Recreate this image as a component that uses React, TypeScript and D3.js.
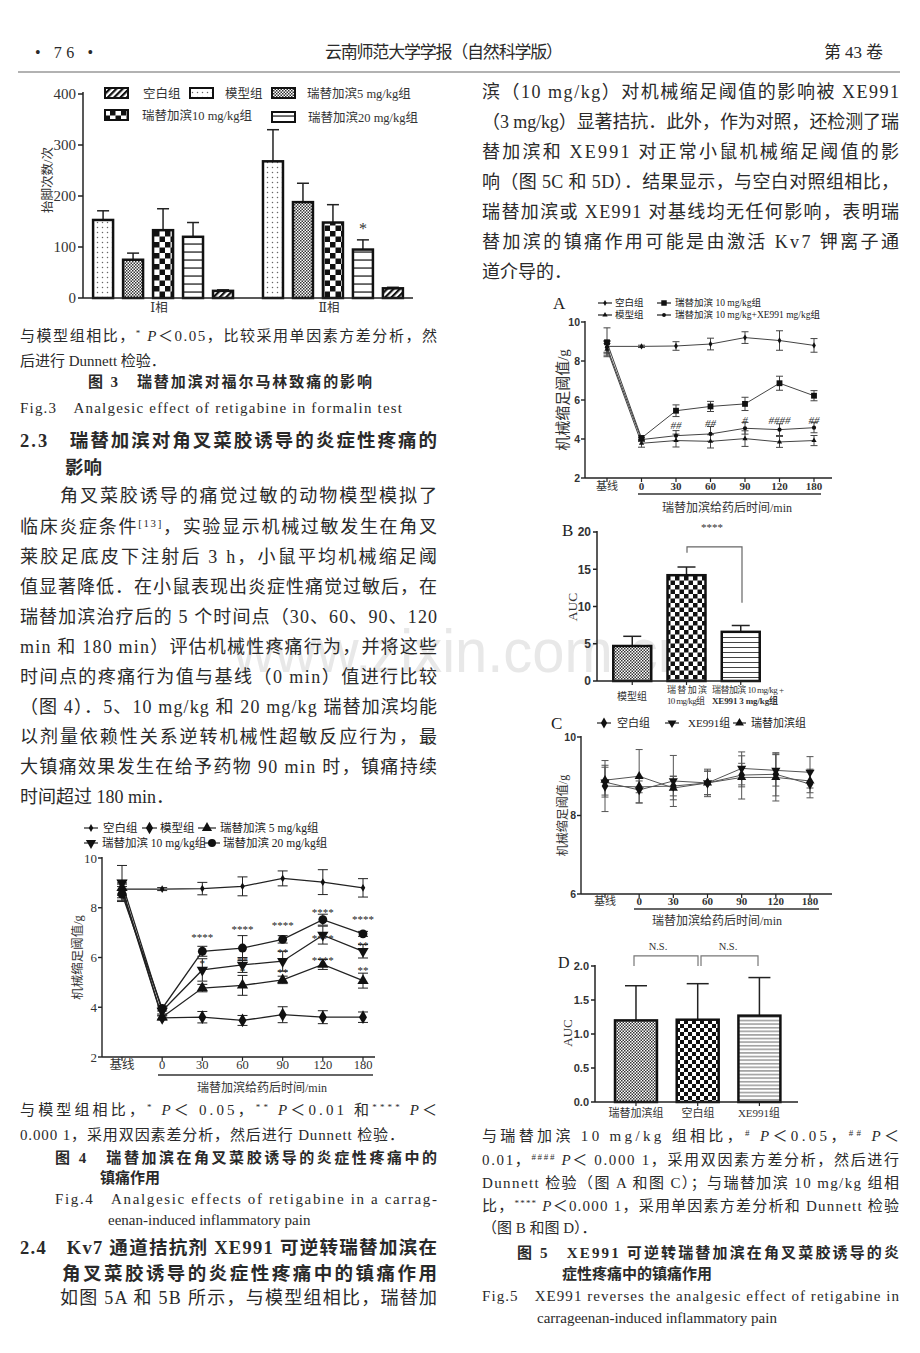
import React from 'react'
import * as d3 from 'd3'

const SERIF = "'Liberation Serif', 'DejaVu Serif', 'Noto Sans CJK SC', serif"
const SANS = "'Liberation Sans', 'DejaVu Sans', 'Noto Sans CJK SC', sans-serif"
const INK = '#2a2a2a'

// ---------- Fig.3 formalin test ----------
const fig3Phases = ['Ⅰ相', 'Ⅱ相']
const fig3Bars = ['模型组', '瑞替加滨5 mg/kg组', '瑞替加滨10 mg/kg组', '瑞替加滨20 mg/kg组', '空白组']
const fig3Legend = ['空白组', '模型组', '瑞替加滨5 mg/kg组', '瑞替加滨10 mg/kg组', '瑞替加滨20 mg/kg组']
const fig3PhaseI = [153, 75, 133, 120, 14]
const fig3PhaseIErr = [18, 13, 42, 28, 2]
const fig3PhaseII = [268, 188, 148, 95, 19]
const fig3PhaseIIErr = [62, 37, 35, 19, 2]
const fig3StarsII = ['', '', '', '*', '']
const fig3Ticks = [0, 100, 200, 300, 400]

// ---------- time axis shared by Fig.4 / 5A / 5C ----------
const timePoints = ['基线', '0', '30', '60', '90', '120', '180']

// ---------- Fig.4 ----------
const fig4Names = ['空白组', '模型组', '瑞替加滨  5 mg/kg组', '瑞替加滨  10 mg/kg组', '瑞替加滨  20 mg/kg组']
const fig4Blank = [8.75, 8.75, 8.77, 8.86, 9.18, 9.03, 8.8]
const fig4BlankErr = [0.2, 0.06, 0.25, 0.38, 0.3, 0.5, 0.37]
const fig4Model = [8.7, 3.57, 3.6, 3.47, 3.7, 3.6, 3.6]
const fig4ModelErr = [0.3, 0.08, 0.23, 0.2, 0.32, 0.26, 0.21]
const fig4Dose5 = [8.8, 3.6, 4.77, 4.88, 5.1, 5.72, 5.07]
const fig4Dose5Err = [0.3, 0.08, 0.15, 0.4, 0.15, 0.2, 0.3]
const fig4Dose10 = [9.0, 3.85, 5.5, 5.7, 5.85, 6.9, 6.25]
const fig4Dose10Err = [0.7, 0.12, 0.45, 0.3, 0.4, 0.36, 0.27]
const fig4Dose20 = [8.55, 3.95, 6.25, 6.38, 6.73, 7.52, 6.95]
const fig4Dose20Err = [0.3, 0.1, 0.2, 0.5, 0.15, 0.22, 0.1]
const fig4MarkTimes = ['30', '30', '60', '60', '60', '90', '90', '90', '120', '120', '120', '180', '180', '180']
const fig4MarkValues = [6.9, 5.85, 7.24, 5.98, 5.54, 7.38, 6.3, 5.5, 7.9, 6.88, 5.98, 7.64, 6.58, 5.58]
const fig4MarkTexts = ['****', '*', '****', '**', '*', '****', '**', '**', '****', '****', '****', '****', '**', '**']

// ---------- Fig.5A ----------
const fig5aNames = ['空白组', '瑞替加滨 10 mg/kg组', '模型组', '瑞替加滨 10 mg/kg+XE991 mg/kg组']
const fig5aBlank = [8.75, 8.75, 8.77, 8.87, 9.2, 9.05, 8.8]
const fig5aBlankErr = [0.3, 0.06, 0.22, 0.3, 0.3, 0.5, 0.35]
const fig5aDose10 = [8.96, 4.05, 5.45, 5.67, 5.8, 6.86, 6.22]
const fig5aDose10Err = [0.74, 0.12, 0.3, 0.26, 0.34, 0.36, 0.26]
const fig5aModel = [8.6, 3.78, 3.92, 3.88, 4.02, 3.85, 3.92]
const fig5aModelErr = [0.3, 0.2, 0.33, 0.34, 0.4, 0.28, 0.26]
const fig5aXE = [8.7, 3.97, 4.17, 4.26, 4.55, 4.48, 4.58]
const fig5aXEErr = [0.3, 0.1, 0.26, 0.38, 0.3, 0.3, 0.26]
const fig5aMarkTimes = ['30', '60', '90', '120', '180']
const fig5aMarkValues = [4.72, 4.82, 4.98, 4.98, 4.98]
const fig5aMarkTexts = ['##', '##', '#', '####', '##']

// ---------- Fig.5B ----------
const fig5bGroups = ['模型组', '瑞替加滨10', 'XE991']
const fig5bAuc = [4.7, 14.2, 6.6]
const fig5bErr = [1.3, 1.1, 0.85]
const fig5bTicks = [0, 5, 10, 15, 20]

// ---------- Fig.5C ----------
const fig5cNames = ['空白组', 'XE991组', '瑞替加滨组']
const fig5cBlank = [8.75, 8.73, 8.75, 8.83, 9.03, 9.05, 8.8]
const fig5cBlankErr = [0.65, 0.15, 0.25, 0.3, 0.3, 0.55, 0.35]
const fig5cXE = [8.85, 8.65, 8.88, 8.83, 9.2, 9.15, 9.1]
const fig5cXEErr = [0.38, 0.33, 0.65, 0.3, 0.42, 0.4, 0.4]
const fig5cRet = [8.9, 9.0, 8.7, 8.83, 8.97, 8.97, 8.88]
const fig5cRetErr = [0.38, 0.68, 0.3, 0.35, 0.55, 0.6, 0.3]

// ---------- Fig.5D ----------
const fig5dGroups = ['瑞替加滨组', '空白组', 'XE991组']
const fig5dAuc = [1.2, 1.21, 1.27]
const fig5dErr = [0.51, 0.53, 0.56]
const fig5dTicks = [0, 0.5, 1, 1.5, 2]

// ---------- page text ----------
type Ln = { x: number; y: number; s: string; size: number; w?: number; b?: boolean }
const pageLines: Ln[] = [
  { x: 35, y: 52, s: '•  76  •', size: 16, w: 58 },
  { x: 325, y: 52, s: '云南师范大学学报（自然科学版）', size: 17, w: 238 },
  { x: 824, y: 52, s: '第 43 卷', size: 17, w: 59 },

  { x: 482, y: 92, s: '滨（10 mg/kg）对机械缩足阈值的影响被 XE991', size: 18, w: 417 },
  { x: 482, y: 122, s: '（3 mg/kg）显著拮抗．此外，作为对照，还检测了瑞', size: 18, w: 417 },
  { x: 482, y: 152, s: '替加滨和 XE991 对正常小鼠机械缩足阈值的影', size: 18, w: 417 },
  { x: 482, y: 182, s: '响（图 5C 和 5D）．结果显示，与空白对照组相比，', size: 18, w: 417 },
  { x: 482, y: 212, s: '瑞替加滨或 XE991 对基线均无任何影响，表明瑞', size: 18, w: 417 },
  { x: 482, y: 242, s: '替加滨的镇痛作用可能是由激活 Kv7 钾离子通', size: 18, w: 417 },
  { x: 482, y: 272, s: '道介导的．', size: 18 },

  { x: 20, y: 336, s: '与模型组相比，{sup:*} {i:P}＜0.05，比较采用单因素方差分析，然', size: 15, w: 417 },
  { x: 20, y: 361, s: '后进行 Dunnett 检验．', size: 15 },
  { x: 88, y: 382, s: '图 3　瑞替加滨对福尔马林致痛的影响', size: 15, w: 284, b: true },
  { x: 20, y: 408, s: 'Fig.3　Analgesic effect of retigabine in formalin test', size: 15, w: 382 },
  { x: 20, y: 440, s: '2.3　瑞替加滨对角叉菜胶诱导的炎症性疼痛的', size: 18.5, w: 417, b: true },
  { x: 65, y: 467, s: '影响', size: 18.5, b: true },
  { x: 60, y: 496, s: '角叉菜胶诱导的痛觉过敏的动物模型模拟了', size: 18, w: 377 },
  { x: 20, y: 527, s: '临床炎症条件{sup:[13]}，实验显示机械过敏发生在角叉', size: 18, w: 417 },
  { x: 20, y: 557, s: '莱胶足底皮下注射后 3 h，小鼠平均机械缩足阈', size: 18, w: 417 },
  { x: 20, y: 587, s: '值显著降低．在小鼠表现出炎症性痛觉过敏后，在', size: 18, w: 417 },
  { x: 20, y: 617, s: '瑞替加滨治疗后的 5 个时间点（30、60、90、120', size: 18, w: 417 },
  { x: 20, y: 647, s: 'min 和 180 min）评估机械性疼痛行为，并将这些', size: 18, w: 417 },
  { x: 20, y: 677, s: '时间点的疼痛行为值与基线（0 min）值进行比较', size: 18, w: 417 },
  { x: 20, y: 707, s: '（图 4）．5、10 mg/kg 和 20 mg/kg 瑞替加滨均能', size: 18, w: 417 },
  { x: 20, y: 737, s: '以剂量依赖性关系逆转机械性超敏反应行为，最', size: 18, w: 417 },
  { x: 20, y: 767, s: '大镇痛效果发生在给予药物 90 min 时，镇痛持续', size: 18, w: 417 },
  { x: 20, y: 797, s: '时间超过 180 min．', size: 18 },

  { x: 20, y: 1110, s: '与模型组相比，{sup:*} {i:P}＜ 0.05，{sup:**} {i:P}＜0.01 和{sup:****} {i:P}＜', size: 15, w: 417 },
  { x: 20, y: 1135, s: '0.000 1，采用双因素差分析，然后进行 Dunnett 检验．', size: 15, w: 384 },
  { x: 55, y: 1158, s: '图 4　瑞替加滨在角叉菜胶诱导的炎症性疼痛中的', size: 15, w: 382, b: true },
  { x: 100, y: 1178, s: '镇痛作用', size: 15, b: true },
  { x: 55, y: 1199, s: 'Fig.4　Analgesic effects of retigabine in a carrag-', size: 15, w: 382 },
  { x: 108, y: 1220, s: 'eenan-induced inflammatory pain', size: 15 },
  { x: 20, y: 1247, s: '2.4　Kv7 通道拮抗剂 XE991 可逆转瑞替加滨在', size: 18.5, w: 417, b: true },
  { x: 62, y: 1273, s: '角叉菜胶诱导的炎症性疼痛中的镇痛作用', size: 18.5, w: 375, b: true },
  { x: 60, y: 1298, s: '如图 5A 和 5B 所示，与模型组相比，瑞替加', size: 18, w: 377 },

  { x: 482, y: 1136, s: '与瑞替加滨 10 mg/kg 组相比，{sup:#} {i:P}＜0.05，{sup:##} {i:P}＜', size: 15, w: 417 },
  { x: 482, y: 1160, s: '0.01，{sup:####} {i:P}＜ 0.000 1，采用双因素方差分析，然后进行', size: 15, w: 417 },
  { x: 482, y: 1183, s: 'Dunnett 检验（图 A 和图 C）；与瑞替加滨 10 mg/kg 组相', size: 15, w: 417 },
  { x: 482, y: 1206, s: '比，{sup:****} {i:P}＜0.000 1，采用单因素方差分析和 Dunnett 检验', size: 15, w: 417 },
  { x: 482, y: 1228, s: '（图 B 和图 D）．', size: 15 },
  { x: 517, y: 1253, s: '图 5　XE991 可逆转瑞替加滨在角叉菜胶诱导的炎', size: 15, w: 382, b: true },
  { x: 562, y: 1274, s: '症性疼痛中的镇痛作用', size: 15, b: true },
  { x: 482, y: 1296, s: 'Fig.5　XE991 reverses the analgesic effect of retigabine in', size: 15, w: 417 },
  { x: 537, y: 1318, s: 'carrageenan-induced inflammatory pain', size: 15 },
]

function rich(s: string, size: number) {
  const out: React.ReactNode[] = []
  const re = /\{(sup|i):([^}]*)\}/g
  const up = size * 0.38
  let last = 0
  let raised = false
  let k = 0
  let m: RegExpExecArray | null
  while ((m = re.exec(s))) {
    if (m.index > last) {
      out.push(<tspan key={k++} dy={raised ? up : 0}>{s.slice(last, m.index)}</tspan>)
      raised = false
    }
    if (m[1] === 'sup') {
      out.push(<tspan key={k++} dy={raised ? 0 : -up} fontSize={size * 0.6}>{m[2]}</tspan>)
      raised = true
    } else {
      out.push(<tspan key={k++} dy={raised ? up : 0} fontStyle="italic">{m[2]}</tspan>)
      raised = false
    }
    last = re.lastIndex
  }
  if (last < s.length) out.push(<tspan key={k++} dy={raised ? up : 0}>{s.slice(last)}</tspan>)
  return out
}

function PageText() {
  return (
    <g fill={INK}>
      {pageLines.map((l, i) => (
        <text key={i} x={l.x} y={l.y + l.size * 0.36} fontSize={l.size} fontWeight={l.b ? 700 : 400}
          textLength={l.w} lengthAdjust={l.w ? 'spacing' : undefined}>
          {rich(l.s, l.size)}
        </text>
      ))}
    </g>
  )
}

function Defs() {
  return (
    <defs>
      <pattern id="p3Dots" width="5" height="5" patternUnits="userSpaceOnUse">
        <rect width="5" height="5" fill="#fff" />
        <circle cx="2.5" cy="2.5" r="0.75" fill="#666" />
      </pattern>
      <pattern id="pDense" width="3" height="3" patternUnits="userSpaceOnUse">
        <rect width="3" height="3" fill="#fff" />
        <rect width="1.5" height="1.5" fill="#333" />
        <rect x="1.5" y="1.5" width="1.5" height="1.5" fill="#333" />
      </pattern>
      <pattern id="p3Check" width="11" height="11" patternUnits="userSpaceOnUse">
        <rect width="11" height="11" fill="#fff" />
        <rect width="5.5" height="5.5" fill="#111" />
        <rect x="5.5" y="5.5" width="5.5" height="5.5" fill="#111" />
      </pattern>
      <pattern id="pCheck" width="9" height="9" patternUnits="userSpaceOnUse">
        <rect width="9" height="9" fill="#fff" />
        <rect width="4.5" height="4.5" fill="#111" />
        <rect x="4.5" y="4.5" width="4.5" height="4.5" fill="#111" />
      </pattern>
      <pattern id="pCheckS" width="8" height="8" patternUnits="userSpaceOnUse">
        <rect width="8" height="8" fill="#fff" />
        <rect width="4" height="4" fill="#111" />
        <rect x="4" y="4" width="4" height="4" fill="#111" />
      </pattern>
      <pattern id="p3Lines" width="6" height="8" patternUnits="userSpaceOnUse">
        <rect width="6" height="8" fill="#fff" />
        <rect y="3.4" width="6" height="1.3" fill="#222" />
      </pattern>
      <pattern id="pLines" width="6" height="5" patternUnits="userSpaceOnUse">
        <rect width="6" height="5" fill="#fff" />
        <rect y="2" width="6" height="1" fill="#444" />
      </pattern>
      <pattern id="pLinesS" width="6" height="3.6" patternUnits="userSpaceOnUse">
        <rect width="6" height="3.6" fill="#fff" />
        <rect y="1.3" width="6" height="0.9" fill="#555" />
      </pattern>
      <pattern id="p3Diag" width="4.5" height="4.5" patternUnits="userSpaceOnUse" patternTransform="rotate(45)">
        <rect width="4.5" height="4.5" fill="#fff" />
        <rect width="2.2" height="4.5" fill="#111" />
      </pattern>
    </defs>
  )
}

const fig3Fill: Record<string, string> = {
  '空白组': 'url(#p3Diag)',
  '模型组': 'url(#p3Dots)',
  '瑞替加滨5 mg/kg组': 'url(#pDense)',
  '瑞替加滨10 mg/kg组': 'url(#p3Check)',
  '瑞替加滨20 mg/kg组': 'url(#p3Lines)',
}
// legend layout: swatch x, row y, text x
const fig3LegendPos = [[105, 93, 143], [190, 93, 225], [272, 93, 307], [105, 115, 142], [272, 117, 308]]

function Fig3() {
  const y = d3.scaleLinear().domain([0, 400]).range([298, 94])
  const phase = d3.scaleBand<string>().domain(fig3Phases).range([83, 413]).paddingInner(0.1176).paddingOuter(0.03)
  const bar = d3.scaleBand<string>().domain(fig3Bars).range([0, phase.bandwidth()]).paddingInner(1 / 3).paddingOuter(1 / 6)
  const means = [fig3PhaseI, fig3PhaseII]
  const errs = [fig3PhaseIErr, fig3PhaseIIErr]
  const stars = [['', '', '', '', ''], fig3StarsII]
  return (
    <g fill="#333">
      {fig3Legend.map((g, i) => {
        const [sx, sy, tx] = fig3LegendPos[i]
        return (
          <g key={g}>
            <rect x={sx} y={sy - 5} width={23} height={10} fill={fig3Fill[g]} stroke="#111" strokeWidth={2} />
            <text x={tx} y={sy + 4.5} fontSize={12.5}>{g}</text>
          </g>
        )
      })}
      <text transform="translate(48,180) rotate(-90)" textAnchor="middle" fontSize={12.5} dy={4}>抬脚次数/次</text>
      {fig3Ticks.map(t => (
        <g key={t}>
          <line x1={78} x2={83} y1={y(t)} y2={y(t)} stroke="#222" strokeWidth={1.5} />
          <text x={76} y={y(t) + 5} textAnchor="end" fontSize={15}>{t}</text>
        </g>
      ))}
      {fig3Phases.map((p, pi) => (
        <g key={p}>
          {fig3Bars.map((b, bi) => {
            const x0 = (phase(p) as number) + (bar(b) as number)
            const w = bar.bandwidth()
            const v = means[pi][bi]
            const e = errs[pi][bi]
            const cx = x0 + w / 2
            return (
              <g key={b}>
                <line x1={cx} x2={cx} y1={y(v)} y2={y(v + e)} stroke="#222" strokeWidth={1.5} />
                <line x1={cx - 6} x2={cx + 6} y1={y(v + e)} y2={y(v + e)} stroke="#222" strokeWidth={1.5} />
                <rect x={x0} y={y(v)} width={w} height={y(0) - y(v)} fill={fig3Fill[b]} stroke="#111" strokeWidth={2.5} />
                {stars[pi][bi] && (
                  <text x={cx} y={y(v + e) - 6} textAnchor="middle" fontSize={16}>{stars[pi][bi]}</text>
                )}
              </g>
            )
          })}
          <text x={(phase(p) as number) + phase.bandwidth() / 2 - 4} y={312} textAnchor="middle" fontSize={12.5}>{p}</text>
        </g>
      ))}
      <line x1={83} x2={83} y1={92} y2={298} stroke="#222" strokeWidth={1.5} />
      <line x1={83} x2={413} y1={298} y2={298} stroke="#222" strokeWidth={1.5} />
    </g>
  )
}

type Ser = { values: number[]; errs: number[]; marker: string; size: number }

function Marker({ kind, x, y, size }: { kind: string; x: number; y: number; size: number }) {
  const types: Record<string, d3.SymbolType> = {
    diamond: d3.symbolDiamond, tri: d3.symbolTriangle, tridown: d3.symbolTriangle,
    circle: d3.symbolCircle, square: d3.symbolSquare,
  }
  const d = d3.symbol().type(types[kind]).size(size)() as string
  const flip = kind === 'tridown' ? ' rotate(180)' : ''
  return <path d={d} transform={`translate(${x},${y})${flip}`} fill="#111" />
}

function Traces({ xs, ys, series, cap, width, color }: {
  xs: d3.ScalePoint<string>; ys: d3.ScaleLinear<number, number>; series: Ser[]; cap: number; width: number; color: string
}) {
  const line = d3.line<number>().x((_, i) => xs(timePoints[i]) as number).y(v => ys(v))
  return (
    <g>
      {series.map((s, si) => (
        <g key={'e' + si} stroke={color} strokeWidth={1}>
          {s.values.map((v, i) => {
            const cx = xs(timePoints[i]) as number
            const e = s.errs[i]
            return (
              <g key={i}>
                <line x1={cx} x2={cx} y1={ys(v - e)} y2={ys(v + e)} />
                <line x1={cx - cap} x2={cx + cap} y1={ys(v + e)} y2={ys(v + e)} />
                <line x1={cx - cap} x2={cx + cap} y1={ys(v - e)} y2={ys(v - e)} />
              </g>
            )
          })}
        </g>
      ))}
      {series.map((s, si) => (
        <path key={'l' + si} d={line(s.values) as string} fill="none" stroke={color} strokeWidth={width} />
      ))}
      {series.map((s, si) => (
        <g key={'m' + si}>
          {s.values.map((v, i) => (
            <Marker key={i} kind={s.marker} size={s.size} x={xs(timePoints[i]) as number} y={ys(v)} />
          ))}
        </g>
      ))}
    </g>
  )
}

function Frame(p: {
  xs: d3.ScalePoint<string>; ys: d3.ScaleLinear<number, number>; yTicks: number[]; ax: number; axEnd: number
  tickFont: string; tickSize: number; tickBold: boolean; xSize: number; xBold: boolean; xLabY: number
  under: number[]; titleX: number; titleY: number; titleSize: number; yLabX: number; yLabSize: number
}) {
  const [y0, y1] = p.ys.range()
  return (
    <g fill="#333">
      <line x1={p.ax} x2={p.ax} y1={y1 - 1} y2={y0} stroke="#222" strokeWidth={1.4} />
      <line x1={p.ax} x2={p.axEnd} y1={y0} y2={y0} stroke="#222" strokeWidth={1.4} />
      {p.yTicks.map(t => (
        <g key={t}>
          <line x1={p.ax - 4} x2={p.ax} y1={p.ys(t)} y2={p.ys(t)} stroke="#222" strokeWidth={1.4} />
          <text x={p.ax - 5} y={p.ys(t) + p.tickSize * 0.36} textAnchor="end" fontSize={p.tickSize}
            fontFamily={p.tickFont} fontWeight={p.tickBold ? 700 : 400}>{t}</text>
        </g>
      ))}
      {p.xs.domain().map(c => (
        <g key={c}>
          <line x1={p.xs(c)} x2={p.xs(c)} y1={y0} y2={y0 + 4} stroke="#222" strokeWidth={1.2} />
          <text x={p.xs(c)} y={p.xLabY + p.xSize * 0.36} textAnchor="middle" fontSize={p.xSize}
            fontWeight={c !== '基线' && p.xBold ? 700 : 400}>{c}</text>
        </g>
      ))}
      <line x1={p.under[0]} x2={p.under[1]} y1={p.under[2]} y2={p.under[2]} stroke="#333" strokeWidth={1.6} />
      <text x={p.titleX} y={p.titleY + p.titleSize * 0.36} textAnchor="middle" fontSize={p.titleSize}>瑞替加滨给药后时间/min</text>
      <text transform={`translate(${p.yLabX},${(y0 + y1) / 2}) rotate(-90)`} textAnchor="middle"
        dy={p.yLabSize * 0.36} fontSize={p.yLabSize}>机械缩足阈值/g</text>
    </g>
  )
}

function LegendItem({ x1, x2, y, tx, kind, size, label, fs }: {
  x1: number; x2: number; y: number; tx: number; kind: string; size: number; label: string; fs: number
}) {
  return (
    <g>
      <line x1={x1} x2={x2} y1={y} y2={y} stroke="#222" strokeWidth={1.2} />
      <Marker kind={kind} x={(x1 + x2) / 2} y={y} size={size} />
      <text x={tx} y={y + fs * 0.36} fontSize={fs} fill="#222">{label}</text>
    </g>
  )
}

function Fig4() {
  const xs = d3.scalePoint<string>().domain(timePoints).range([122, 363])
  const ys = d3.scaleLinear().domain([2, 10]).range([1057, 858])
  const series: Ser[] = [
    { values: fig4Blank, errs: fig4BlankErr, marker: 'diamond', size: 18 },
    { values: fig4Model, errs: fig4ModelErr, marker: 'diamond', size: 55 },
    { values: fig4Dose5, errs: fig4Dose5Err, marker: 'tri', size: 55 },
    { values: fig4Dose10, errs: fig4Dose10Err, marker: 'tridown', size: 55 },
    { values: fig4Dose20, errs: fig4Dose20Err, marker: 'circle', size: 62 },
  ]
  const kinds = ['diamond', 'diamond', 'tri', 'tridown', 'circle']
  const sizes = [18, 45, 45, 45, 50]
  const legendPos = [[84, 98, 828, 103], [142, 157, 828, 160], [198, 216, 828, 220], [84, 98, 843, 102], [204, 220, 843, 223]]
  return (
    <g>
      {fig4Names.map((n, i) => (
        <LegendItem key={n} x1={legendPos[i][0]} x2={legendPos[i][1]} y={legendPos[i][2]} tx={legendPos[i][3]}
          kind={kinds[i]} size={sizes[i]} label={n} fs={11.5} />
      ))}
      <Frame xs={xs} ys={ys} yTicks={[2, 4, 6, 8, 10]} ax={102} axEnd={375} tickFont={SERIF} tickSize={13}
        tickBold={false} xSize={12.5} xBold={false} xLabY={1064} under={[158, 373, 1075]} titleX={262}
        titleY={1088} titleSize={12} yLabX={77} yLabSize={12.5} />
      <Traces xs={xs} ys={ys} series={series} cap={5} width={1.3} color="#222" />
      <g fill="#222" fontSize={11} textAnchor="middle">
        {fig4MarkTexts.map((t, i) => (
          <text key={i} x={xs(fig4MarkTimes[i])} y={ys(fig4MarkValues[i]) + 6}>{t}</text>
        ))}
      </g>
    </g>
  )
}

function Fig5A() {
  const xs = d3.scalePoint<string>().domain(timePoints).range([607, 814])
  const ys = d3.scaleLinear().domain([2, 10]).range([478, 322])
  const series: Ser[] = [
    { values: fig5aBlank, errs: fig5aBlankErr, marker: 'diamond', size: 12 },
    { values: fig5aModel, errs: fig5aModelErr, marker: 'tri', size: 12 },
    { values: fig5aXE, errs: fig5aXEErr, marker: 'circle', size: 14 },
    { values: fig5aDose10, errs: fig5aDose10Err, marker: 'square', size: 34 },
  ]
  const kinds = ['diamond', 'square', 'tri', 'circle']
  const sizes = [10, 30, 12, 12]
  const legendPos = [[598, 612, 303, 615], [657, 671, 303, 675], [598, 612, 315, 615], [657, 671, 315, 675]]
  return (
    <g>
      <text x={553} y={309} fontSize={17} fill="#222">A</text>
      {fig5aNames.map((n, i) => (
        <LegendItem key={n} x1={legendPos[i][0]} x2={legendPos[i][1]} y={legendPos[i][2]} tx={legendPos[i][3]}
          kind={kinds[i]} size={sizes[i]} label={n} fs={9.5} />
      ))}
      <Frame xs={xs} ys={ys} yTicks={[2, 4, 6, 8, 10]} ax={585} axEnd={832} tickFont={SANS} tickSize={10.5}
        tickBold={true} xSize={11} xBold={true} xLabY={486} under={[638, 821, 494]} titleX={727}
        titleY={508} titleSize={12} yLabX={563} yLabSize={15} />
      <Traces xs={xs} ys={ys} series={series} cap={3.5} width={1} color="#444" />
      <g fill="#333" fontSize={11} textAnchor="middle" fontStyle="italic">
        {fig5aMarkTexts.map((t, i) => (
          <text key={i} x={xs(fig5aMarkTimes[i])} y={ys(fig5aMarkValues[i]) + 4}>{t}</text>
        ))}
      </g>
    </g>
  )
}

function BarPanel({ groups, values, errs, yDom, yRange, ticks, fmt, band, axEnd, fills, cap, tickSize }: {
  groups: string[]; values: number[]; errs: number[]; yDom: number[]; yRange: number[]; ticks: number[]
  fmt: (v: number) => string; band: number[]; axEnd: number; fills: string[]; cap: number; tickSize: number
}) {
  const ys = d3.scaleLinear().domain(yDom).range(yRange)
  const xs = d3.scaleBand<string>().domain(groups).range([band[0], band[1]]).paddingInner(band[2]).paddingOuter(band[3])
  const ax = band[4]
  return (
    <g>
      {groups.map((g, i) => {
        const x0 = xs(g) as number
        const cx = x0 + xs.bandwidth() / 2
        const top = ys(values[i] + errs[i])
        return (
          <g key={g}>
            <line x1={cx} x2={cx} y1={ys(values[i])} y2={top} stroke="#222" strokeWidth={1.5} />
            <line x1={cx - cap} x2={cx + cap} y1={top} y2={top} stroke="#222" strokeWidth={1.5} />
            <rect x={x0} y={ys(values[i])} width={xs.bandwidth()} height={ys(0) - ys(values[i])}
              fill={fills[i]} stroke="#111" strokeWidth={2.5} />
            <line x1={cx} x2={cx} y1={ys(0)} y2={ys(0) + 4} stroke="#222" strokeWidth={1.2} />
          </g>
        )
      })}
      <line x1={ax} x2={ax} y1={yRange[1] - 1} y2={yRange[0]} stroke="#222" strokeWidth={1.5} />
      <line x1={ax} x2={axEnd} y1={yRange[0]} y2={yRange[0]} stroke="#222" strokeWidth={1.5} />
      {ticks.map(t => (
        <g key={t}>
          <line x1={ax - 4} x2={ax} y1={ys(t)} y2={ys(t)} stroke="#222" strokeWidth={1.5} />
          <text x={ax - 6} y={ys(t) + tickSize * 0.36} textAnchor="end" fontSize={tickSize} fontFamily={SANS}
            fontWeight={700} fill="#333">{fmt(t)}</text>
        </g>
      ))}
    </g>
  )
}

function Fig5B() {
  const ys = d3.scaleLinear().domain([0, 20]).range([681, 532])
  return (
    <g fill="#333">
      <text x={562} y={536} fontSize={17} fill="#222">B</text>
      <text transform="translate(572,607) rotate(-90)" textAnchor="middle" dy={5} fontSize={13.5}>AUC</text>
      <BarPanel groups={fig5bGroups} values={fig5bAuc} errs={fig5bErr} yDom={[0, 20]} yRange={[681, 532]}
        ticks={fig5bTicks} fmt={v => String(v)} band={[597, 776, 0.3, 0.3, 597]} axEnd={760}
        fills={['url(#pDense)', 'url(#pCheck)', 'url(#pLines)']} cap={9} tickSize={12} />
      <path d={`M687,${ys(17.2)}V${ys(18.0)}H742V${ys(10.5)}`} fill="none" stroke="#666" strokeWidth={1.2} />
      <text x={712} y={531} textAnchor="middle" fontSize={11}>****</text>
      <g fontSize={9}>
        <text x={632} y={700} fontSize={10} textAnchor="middle">模型组</text>
        <text x={667} y={693} textLength={40} lengthAdjust="spacing">瑞替加滨</text>
        <text x={667} y={704} textLength={38} lengthAdjust="spacing">10 mg/kg组</text>
        <text x={712} y={693} textLength={72} lengthAdjust="spacing">瑞替加滨 10 mg/kg +</text>
        <text x={712} y={704} textLength={66} lengthAdjust="spacing" fontWeight={700}>XE991 3 mg/kg组</text>
      </g>
    </g>
  )
}

function Fig5C() {
  const xs = d3.scalePoint<string>().domain(timePoints).range([605, 810])
  const ys = d3.scaleLinear().domain([6, 10]).range([894, 737])
  const series: Ser[] = [
    { values: fig5cBlank, errs: fig5cBlankErr, marker: 'diamond', size: 38 },
    { values: fig5cXE, errs: fig5cXEErr, marker: 'tridown', size: 36 },
    { values: fig5cRet, errs: fig5cRetErr, marker: 'tri', size: 36 },
  ]
  const kinds = ['diamond', 'tridown', 'tri']
  const legendPos = [[597, 611, 723, 617], [665, 679, 723, 688], [733, 746, 723, 751]]
  return (
    <g>
      <text x={551} y={729} fontSize={17} fill="#222">C</text>
      {fig5cNames.map((n, i) => (
        <LegendItem key={n} x1={legendPos[i][0]} x2={legendPos[i][1]} y={legendPos[i][2]} tx={legendPos[i][3]}
          kind={kinds[i]} size={34} label={n} fs={11} />
      ))}
      <Frame xs={xs} ys={ys} yTicks={[6, 8, 10]} ax={581} axEnd={832} tickFont={SANS} tickSize={10.5}
        tickBold={true} xSize={11} xBold={true} xLabY={901} under={[634, 819, 909]} titleX={717}
        titleY={921} titleSize={12} yLabX={563} yLabSize={12} />
      <Traces xs={xs} ys={ys} series={series} cap={3.5} width={1} color="#555" />
    </g>
  )
}

function Fig5D() {
  const ys = d3.scaleLinear().domain([0, 2]).range([1102, 966])
  return (
    <g fill="#333">
      <text x={558} y={968} fontSize={16} fill="#222">D</text>
      <text transform="translate(567,1033) rotate(-90)" textAnchor="middle" dy={5} fontSize={13}>AUC</text>
      <BarPanel groups={fig5dGroups} values={fig5dAuc} errs={fig5dErr} yDom={[0, 2]} yRange={[1102, 966]}
        ticks={fig5dTicks} fmt={v => v.toFixed(1)} band={[593.4, 802, 0.32, 0.35, 595]} axEnd={798}
        fills={['url(#pDense)', 'url(#pCheckS)', 'url(#pLinesS)']} cap={11} tickSize={11} />
      <path d={`M634,${ys(2.0)}V${ys(2.15)}H698V${ys(2.0)}`} fill="none" stroke="#777" strokeWidth={1.2} />
      <path d={`M701,${ys(2.0)}V${ys(2.15)}H758V${ys(2.0)}`} fill="none" stroke="#777" strokeWidth={1.2} />
      <text x={658} y={950} textAnchor="middle" fontSize={10.5}>N.S.</text>
      <text x={728} y={950} textAnchor="middle" fontSize={10.5}>N.S.</text>
      <g fontSize={11} textAnchor="middle">
        {fig5dGroups.map((g, i) => (
          <text key={g} x={[636, 698, 759][i]} y={1117}>{g}</text>
        ))}
      </g>
    </g>
  )
}

export default function App() {
  return (
    <div style={{ position: 'absolute', left: 0, top: 0 }}>
      <svg width={920} height={1353} fontFamily={SERIF} style={{ display: 'block', background: '#fff' }}>
        <Defs />
        <rect width={920} height={1353} fill="#fff" />
        <text x={233} y={672} fontSize={62} fontFamily={SANS} fill="#e8e8e8" textLength={457}
          lengthAdjust="spacingAndGlyphs">www.zixin.com.cn</text>
        <line x1={18} x2={900} y1={72} y2={72} stroke="#666" strokeWidth={1.2} />
        <PageText />
        <Fig3 />
        <Fig4 />
        <Fig5A />
        <Fig5B />
        <Fig5C />
        <Fig5D />
      </svg>
    </div>
  )
}
